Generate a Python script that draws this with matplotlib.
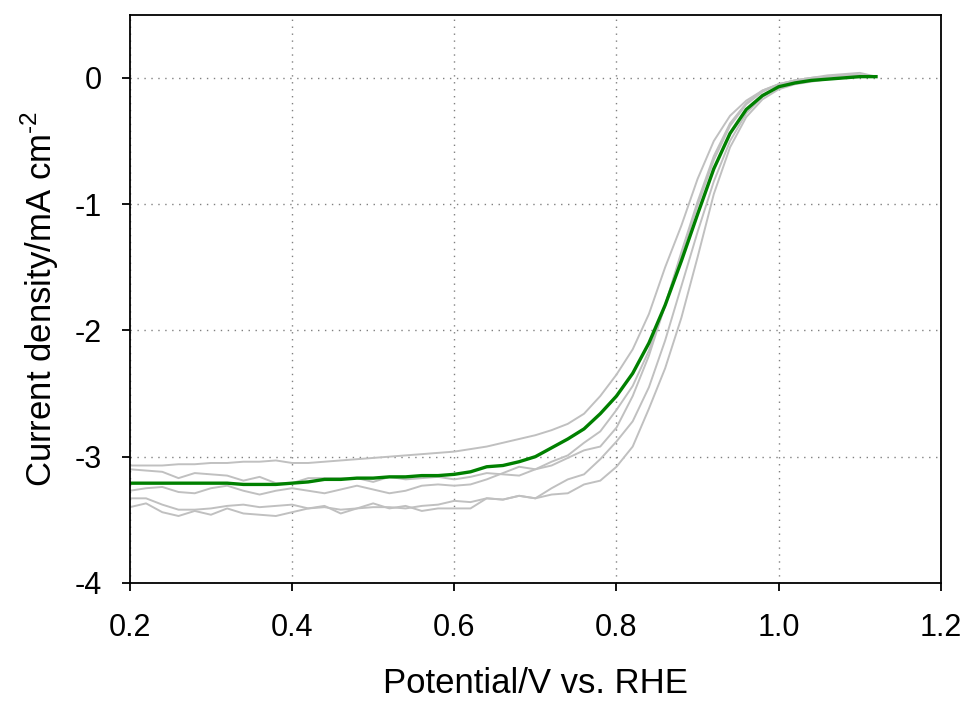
import numpy as np
import matplotlib
matplotlib.use("Agg")
import matplotlib.pyplot as plt

plt.rcParams['font.family'] = ['Liberation Sans', 'DejaVu Sans']
plt.rcParams['axes.unicode_minus'] = False
plt.rcParams['mathtext.fontset'] = 'custom'
plt.rcParams['mathtext.rm'] = 'Liberation Sans'

# potential grid (V vs RHE)
potential = np.round(np.arange(0.20, 1.1201, 0.02), 2)

# individual scans (grey)
scan_a = [-3.07, -3.07, -3.07, -3.06, -3.06, -3.05, -3.05, -3.04, -3.04, -3.03,
          -3.05, -3.05, -3.04, -3.03, -3.02, -3.01, -3.00, -2.99, -2.98, -2.97,
          -2.96, -2.94, -2.92, -2.89, -2.86, -2.83, -2.79, -2.74, -2.66, -2.52,
          -2.35, -2.15, -1.87, -1.50, -1.17, -0.80, -0.50, -0.30, -0.18, -0.10,
          -0.05, -0.02, 0.00, 0.02, 0.03, 0.04, 0.01]
scan_b = [-3.10, -3.11, -3.12, -3.17, -3.13, -3.14, -3.15, -3.19, -3.16, -3.21,
          -3.21, -3.17, -3.17, -3.17, -3.17, -3.20, -3.16, -3.18, -3.17, -3.16,
          -3.18, -3.16, -3.13, -3.14, -3.15, -3.10, -3.07, -3.01, -2.95, -2.92,
          -2.77, -2.52, -2.20, -1.80, -1.38, -0.98, -0.62, -0.36, -0.20, -0.10,
          -0.05, -0.02, 0.00, 0.01, 0.02, 0.02, 0.01]
scan_c = [-3.27, -3.25, -3.24, -3.28, -3.29, -3.25, -3.23, -3.27, -3.30, -3.27,
          -3.25, -3.27, -3.29, -3.26, -3.23, -3.26, -3.29, -3.27, -3.23, -3.22,
          -3.23, -3.22, -3.18, -3.13, -3.08, -3.10, -3.04, -2.99, -2.89, -2.80,
          -2.63, -2.44, -2.16, -1.80, -1.40, -1.01, -0.65, -0.38, -0.21, -0.11,
          -0.05, -0.02, 0.00, 0.01, 0.02, 0.02, 0.01]
scan_d = [-3.33, -3.33, -3.38, -3.42, -3.42, -3.41, -3.39, -3.38, -3.40, -3.39,
          -3.38, -3.41, -3.40, -3.42, -3.41, -3.40, -3.40, -3.41, -3.39, -3.38,
          -3.35, -3.36, -3.33, -3.34, -3.31, -3.33, -3.25, -3.18, -3.14, -3.02,
          -2.88, -2.72, -2.45, -2.08, -1.65, -1.22, -0.82, -0.50, -0.28, -0.15,
          -0.07, -0.03, -0.01, 0.01, 0.02, 0.02, 0.01]
scan_e = [-3.40, -3.37, -3.44, -3.47, -3.43, -3.46, -3.41, -3.45, -3.46, -3.47,
          -3.44, -3.41, -3.39, -3.45, -3.41, -3.37, -3.41, -3.39, -3.43, -3.41,
          -3.41, -3.41, -3.33, -3.34, -3.31, -3.33, -3.30, -3.29, -3.22, -3.19,
          -3.08, -2.92, -2.62, -2.30, -1.90, -1.42, -0.92, -0.55, -0.31, -0.17,
          -0.09, -0.05, -0.03, -0.01, 0.00, 0.01, 0.01]
scans = [scan_a, scan_b, scan_c, scan_d, scan_e]

# averaged curve (green)
average = [-3.21, -3.21, -3.21, -3.21, -3.21, -3.21, -3.21, -3.22, -3.22, -3.22,
           -3.21, -3.20, -3.18, -3.18, -3.17, -3.17, -3.16, -3.16, -3.15, -3.15,
           -3.14, -3.12, -3.08, -3.07, -3.04, -3.00, -2.93, -2.86, -2.78, -2.66,
           -2.52, -2.34, -2.10, -1.80, -1.45, -1.08, -0.72, -0.44, -0.25, -0.14,
           -0.07, -0.04, -0.02, -0.01, 0.00, 0.01, 0.01]

x_ticks = [0.2, 0.4, 0.6, 0.8, 1.0, 1.2]
y_ticks = [0, -1, -2, -3, -4]

fig = plt.figure(figsize=(9.69, 7.04), dpi=100)
ax = fig.add_axes([0.134, 0.172, 0.837, 0.807])

for s in scans:
    ax.plot(potential, s, color="#c0c0c0", linewidth=1.4)
ax.plot(potential, average, color="#008000", linewidth=2.4)

ax.set_xlim(0.2, 1.2)
ax.set_ylim(-4, 0.5)
ax.set_xticks(x_ticks)
ax.set_xticklabels(["%.1f" % v for v in x_ticks])
ax.set_yticks(y_ticks)
ax.set_yticklabels([str(v) for v in y_ticks])

ax.grid(True, color="#808080", linestyle=(0, (1, 4)), linewidth=1.0)
for sp in ax.spines.values():
    sp.set_linewidth(1.3)
    sp.set_color("black")
ax.tick_params(direction="out", length=6, width=1.3, labelsize=22)
ax.tick_params(axis="x", pad=16)
ax.tick_params(axis="y", pad=14)

ax.set_xlabel("Potential/V vs. RHE", fontsize=25, labelpad=17)
ax.set_ylabel("Current density/mA cm$^{\\text{-2}}$", fontsize=25, labelpad=10)

plt.savefig("out.png", dpi=100)
plt.close()
